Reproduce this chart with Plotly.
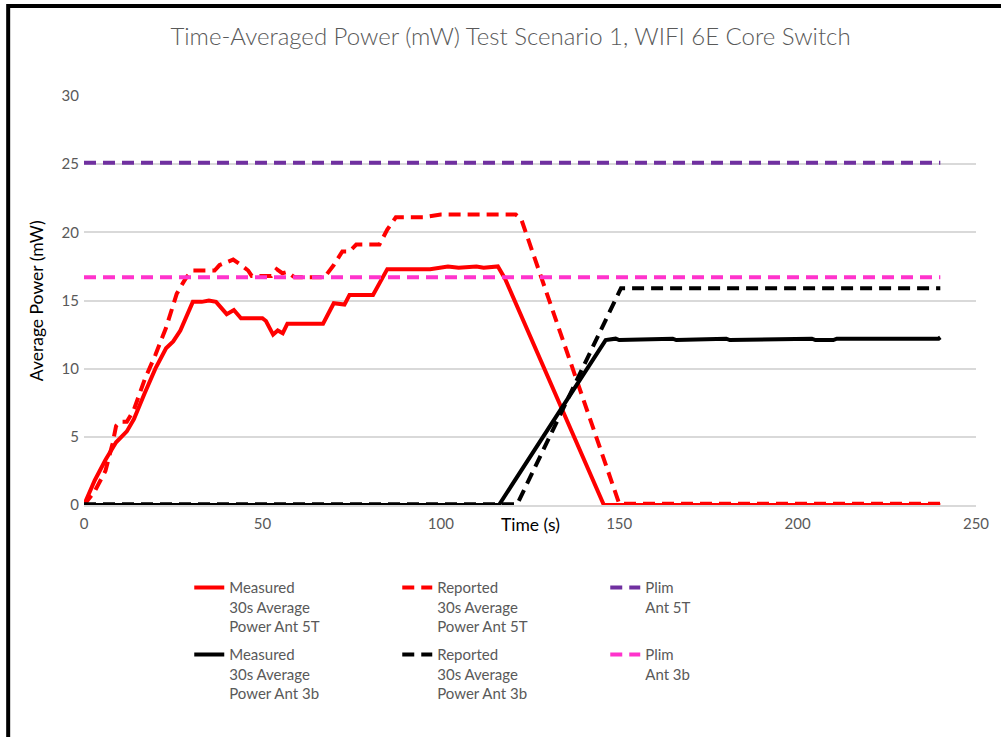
import plotly.graph_objects as go

# measured 30s average, Ant 5T (red solid)
meas5t_t = [0, 3, 6, 9, 12, 14, 17, 20, 23, 25, 27, 29, 30.5, 33, 35, 37, 40, 42, 44, 50, 51, 53,
            54.3, 55.7, 57, 67, 70, 73, 74.4, 81, 85, 97, 100, 102, 105, 110, 112, 116, 118, 145.7, 240]
meas5t_v = [0, 1.8, 3.3, 4.6, 5.4, 6.3, 8.2, 10, 11.5, 12, 12.8, 14, 14.9, 14.9, 15, 14.9, 14, 14.3, 13.7, 13.7, 13.5, 12.5,
            12.8, 12.6, 13.3, 13.3, 14.8, 14.7, 15.4, 15.4, 17.3, 17.3, 17.4, 17.5, 17.4, 17.5, 17.4, 17.5, 16.6, 0, 0]

# reported 30s average, Ant 5T (red dashed)
rep5t_t = [0, 3, 6, 8, 9, 10, 12, 14, 17, 20, 23, 26, 28, 29, 30.5, 36.6, 38, 40, 41.8, 44, 46, 47, 52.5,
           54, 55.6, 57, 59, 67.4, 70, 72.4, 74.4, 76.3, 82.8, 85, 87.4, 95, 100, 121, 122.5, 150, 240]
rep5t_v = [0, 1, 2.5, 4.5, 5.8, 6.1, 6.1, 7, 9.2, 11, 13, 15.5, 16.4, 16.8, 17.2, 17.2, 17.6, 17.8, 18, 17.6, 17.2, 16.8, 16.8,
           17.3, 17, 17.1, 16.7, 16.7, 17.6, 18.6, 18.6, 19.1, 19.1, 20.2, 21.1, 21.1, 21.3, 21.3, 21, 0.1, 0.1]

# measured 30s average, Ant 3b (black solid)
meas3b_t = [0, 116.3, 146.2, 149, 150, 165, 166, 180, 181, 204, 205, 210, 211, 239.5, 240]
meas3b_v = [0, 0, 12.1, 12.2, 12.1, 12.2, 12.1, 12.2, 12.1, 12.2, 12.1, 12.1, 12.2, 12.2, 12.3]

# reported 30s average, Ant 3b (black dashed)
rep3b_t = [0, 121.4, 150.5, 240]
rep3b_v = [0.05, 0.05, 15.9, 15.9]

# power limits
plim_t = [0, 240]
plim5t = [25.1, 25.1]
plim3b = [16.7, 16.7]

names = ["Measured<br>30s Average<br>Power Ant 5T", "Reported<br>30s Average<br>Power Ant 5T", "Plim<br>Ant 5T",
         "Measured<br>30s Average<br>Power Ant 3b", "Reported<br>30s Average<br>Power Ant 3b", "Plim<br>Ant 3b"]

dash = "12px,7px"
fig = go.Figure()
fig.add_trace(go.Scatter(x=meas5t_t, y=meas5t_v, mode="lines", name=names[0], legend="legend",
                         line=dict(color="#FF0000", width=4)))
fig.add_trace(go.Scatter(x=rep5t_t, y=rep5t_v, mode="lines", name=names[1], legend="legend",
                         line=dict(color="#FF0000", width=4, dash=dash)))
fig.add_trace(go.Scatter(x=plim_t, y=plim5t, mode="lines", name=names[2], legend="legend",
                         line=dict(color="#7030A0", width=4, dash=dash)))
fig.add_trace(go.Scatter(x=meas3b_t, y=meas3b_v, mode="lines", name=names[3], legend="legend2",
                         line=dict(color="#000000", width=4)))
fig.add_trace(go.Scatter(x=rep3b_t, y=rep3b_v, mode="lines", name=names[4], legend="legend2",
                         line=dict(color="#000000", width=4, dash=dash)))
fig.add_trace(go.Scatter(x=plim_t, y=plim3b, mode="lines", name=names[5], legend="legend2",
                         line=dict(color="#FF33CC", width=4, dash=dash)))

grey = "#595959"
leg = dict(orientation="h", x=0.118, xanchor="left", yanchor="top", valign="top",
           entrywidth=163, font=dict(size=15, color=grey), traceorder="normal",
           bgcolor="rgba(0,0,0,0)")
fig.update_layout(
    width=1001, height=737,
    margin=dict(l=84, r=23, t=96, b=232),
    paper_bgcolor="white", plot_bgcolor="white",
    font=dict(family="Lato", color=grey, size=15),
    title=dict(text="Time-Averaged Power (mW) Test Scenario 1, WIFI 6E Core Switch",
               x=0.51, xref="container", xanchor="center", y=0.95, yanchor="middle",
               font=dict(size=24, color=grey, family="Lato", weight=300)),
    xaxis=dict(range=[0, 250], dtick=50, showgrid=False, zeroline=False,
               showline=True, linecolor="#d9d9d9", linewidth=1.5,
               ticks="", ticklabelstandoff=4, tickfont=dict(size=15, color=grey)),
    yaxis=dict(range=[0, 30], dtick=5, showgrid=True, gridcolor="#d9d9d9", gridwidth=1.5,
               zeroline=False, showline=False, ticks="", ticklabelstandoff=4,
               tickfont=dict(size=15, color=grey)),
    legend=dict(leg, y=-0.162),
    legend2=dict(leg, y=-0.326),
    showlegend=True,
)

fig.add_annotation(text="Time (s)", xref="paper", yref="paper", x=0.5, y=0,
                   yanchor="top", yshift=-7, showarrow=False,
                   font=dict(size=17.5, color="black"))
fig.add_annotation(text="Average Power (mW)", xref="paper", yref="paper", x=-0.053, y=0.5,
                   xanchor="center", textangle=-90, showarrow=False,
                   font=dict(size=17.5, color="black"))

# outer frame of the chart
fig.add_shape(type="rect", xref="paper", yref="paper",
              x0=-0.085, x1=1.3, y0=-1.0, y1=1.22,
              line=dict(color="black", width=4), layer="below")

fig.write_html("out.html", config={"displayModeBar": False},
               post_script="document.body.style.margin='0';")
